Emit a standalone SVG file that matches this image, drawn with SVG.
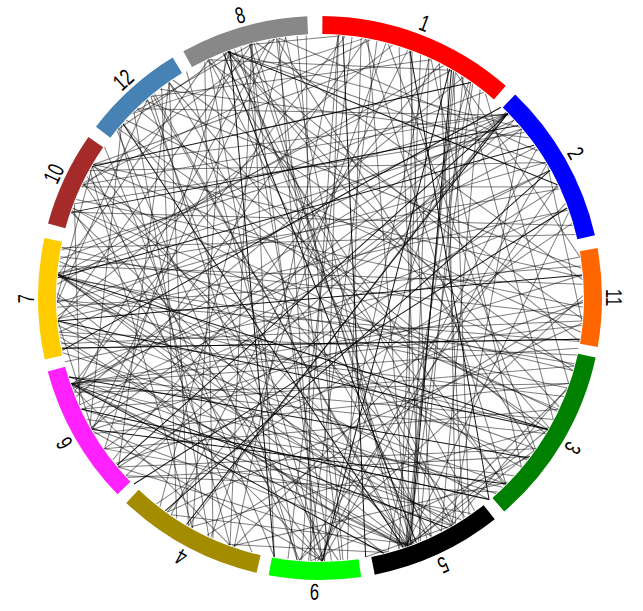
<svg xmlns="http://www.w3.org/2000/svg" xmlns:xlink="http://www.w3.org/1999/xlink" width="643" height="611" viewBox="0 0 643 611">
<style>
.seg{fill:none;stroke-width:18}
.gl{stroke:#000;stroke-opacity:.5;stroke-width:1;fill:none}
.bl{stroke:#000;stroke-opacity:.92;stroke-width:1;fill:none}
.lbl{font-family:"Liberation Sans",Arial,sans-serif;font-size:23px;text-anchor:middle;dominant-baseline:central;fill:#000}
</style>
<defs>
<path id="s5" d="M-11.5,-262.7H11.5"/>
<path id="s10" d="M-22.9,-262H22.9"/>
<path id="s15" d="M-34.3,-260.7H34.3"/>
<path id="s20" d="M-45.7,-259H45.7"/>
<path id="s25" d="M-56.9,-256.8H56.9"/>
<path id="s30" d="M-68.1,-254H68.1"/>
<path id="s35" d="M-79.1,-250.8H79.1"/>
<path id="s40" d="M-89.9,-247.1H89.9"/>
<path id="s45" d="M-100.6,-243H100.6"/>
<path id="s50" d="M-111.1,-238.4H111.1"/>
<path id="s55" d="M-121.4,-233.3H121.4"/>
<path id="s60" d="M-131.5,-227.8H131.5"/>
<path id="s65" d="M-141.3,-221.8H141.3"/>
<path id="s70" d="M-150.9,-215.4H150.9"/>
<path id="s75" d="M-160.1,-208.7H160.1"/>
<path id="s80" d="M-169.1,-201.5H169.1"/>
<path id="s85" d="M-177.7,-193.9H177.7"/>
<path id="s90" d="M-186,-186H186"/>
<path id="s95" d="M-193.9,-177.7H193.9"/>
<path id="s100" d="M-201.5,-169.1H201.5"/>
<path id="s105" d="M-208.7,-160.1H208.7"/>
<path id="s110" d="M-215.4,-150.9H215.4"/>
<path id="s115" d="M-221.8,-141.3H221.8"/>
<path id="s120" d="M-227.8,-131.5H227.8"/>
<path id="s125" d="M-233.3,-121.4H233.3"/>
<path id="s130" d="M-238.4,-111.1H238.4"/>
<path id="s135" d="M-243,-100.6H243"/>
<path id="s140" d="M-247.1,-89.9H247.1"/>
<path id="s145" d="M-250.8,-79.1H250.8"/>
<path id="s150" d="M-254,-68.1H254"/>
<path id="s155" d="M-256.8,-56.9H256.8"/>
<path id="s160" d="M-259,-45.7H259"/>
<path id="s165" d="M-260.7,-34.3H260.7"/>
<path id="s170" d="M-262,-22.9H262"/>
<path id="s175" d="M-262.7,-11.5H262.7"/>
<path id="s180" d="M-263,0H263"/>
</defs>
<rect width="643" height="611" fill="#fff"/>
<g transform="translate(320,298)">
<g id="connectors">
<g class="gl">
<use href="#s135" transform="rotate(87.5)"/>
<use href="#s135" transform="rotate(92)"/>
<use href="#s120" transform="rotate(89)"/>
<use href="#s130" transform="rotate(96)"/>
<use href="#s125" transform="rotate(95.5)"/>
<use href="#s130" transform="rotate(100)"/>
<use href="#s120" transform="rotate(87)"/>
<use href="#s140" transform="rotate(92.5)"/>
<use href="#s115" transform="rotate(95)"/>
<use href="#s140" transform="rotate(87.5)"/>
<use href="#s115" transform="rotate(88)"/>
<use href="#s125" transform="rotate(98)"/>
<use href="#s110" transform="rotate(70)"/>
<use href="#s105" transform="rotate(77.5)"/>
<use href="#s85" transform="rotate(75)"/>
<use href="#s125" transform="rotate(72.5)"/>
<use href="#s70" transform="rotate(74)"/>
<use href="#s175" transform="rotate(91.5)"/>
<use href="#s170" transform="rotate(97.5)"/>
<use href="#s180" transform="rotate(97)"/>
<use href="#s170" transform="rotate(289.5)"/>
<use href="#s165" transform="rotate(297)"/>
<use href="#s165" transform="rotate(281.5)"/>
<use href="#s130" transform="rotate(305)"/>
<use href="#s155" transform="rotate(309.5)"/>
<use href="#s145" transform="rotate(320.5)"/>
<use href="#s115" transform="rotate(308)"/>
<use href="#s110" transform="rotate(321)"/>
<use href="#s115" transform="rotate(330.5)"/>
<use href="#s120" transform="rotate(338.5)"/>
<use href="#s75" transform="rotate(333.5)"/>
<use href="#s80" transform="rotate(340.5)"/>
<use href="#s55" transform="rotate(342)"/>
<use href="#s65" transform="rotate(352.5)"/>
<use href="#s20" transform="rotate(354.5)"/>
<use href="#s55" transform="rotate(2.5)"/>
<use href="#s165" transform="rotate(323)"/>
<use href="#s175" transform="rotate(322.5)"/>
<use href="#s165" transform="rotate(332.5)"/>
<use href="#s175" transform="rotate(333.5)"/>
<use href="#s180" transform="rotate(317.5)"/>
<use href="#s145" transform="rotate(335)"/>
<use href="#s150" transform="rotate(344)"/>
<use href="#s150" transform="rotate(350.5)"/>
<use href="#s125" transform="rotate(343)"/>
<use href="#s165" transform="rotate(348)"/>
<use href="#s120" transform="rotate(351)"/>
<use href="#s120" transform="rotate(359)"/>
<use href="#s165" transform="rotate(127.5)"/>
<use href="#s130" transform="rotate(134)"/>
<use href="#s145" transform="rotate(146)"/>
<use href="#s125" transform="rotate(118)"/>
<use href="#s120" transform="rotate(124.5)"/>
<use href="#s100" transform="rotate(100)"/>
<use href="#s90" transform="rotate(116)"/>
<use href="#s90" transform="rotate(1)"/>
<use href="#s90" transform="rotate(7.5)"/>
<use href="#s70" transform="rotate(14.5)"/>
<use href="#s65" transform="rotate(23.5)"/>
<use href="#s155" transform="rotate(162.5)"/>
<use href="#s140" transform="rotate(161)"/>
<use href="#s155" transform="rotate(173.5)"/>
<use href="#s175" transform="rotate(355.5)"/>
<use href="#s165" transform="rotate(177.5)"/>
<use href="#s170" transform="rotate(2)"/>
<use href="#s160" transform="rotate(12)"/>
<use href="#s145" transform="rotate(13)"/>
<use href="#s125" transform="rotate(21)"/>
<use href="#s145" transform="rotate(25)"/>
<use href="#s100" transform="rotate(36)"/>
<use href="#s120" transform="rotate(34.5)"/>
<use href="#s115" transform="rotate(148)"/>
<use href="#s120" transform="rotate(155.5)"/>
<use href="#s95" transform="rotate(137)"/>
<use href="#s50" transform="rotate(56)"/>
<use href="#s140" transform="rotate(175)"/>
<use href="#s130" transform="rotate(174)"/>
<use href="#s135" transform="rotate(185)"/>
<use href="#s105" transform="rotate(177.5)"/>
<use href="#s110" transform="rotate(187.5)"/>
<use href="#s140" transform="rotate(179)"/>
<use href="#s120" transform="rotate(175)"/>
<use href="#s150" transform="rotate(187)"/>
<use href="#s150" transform="rotate(195)"/>
<use href="#s150" transform="rotate(203)"/>
<use href="#s130" transform="rotate(200)"/>
<use href="#s170" transform="rotate(189.5)"/>
<use href="#s180" transform="rotate(205.5)"/>
<use href="#s160" transform="rotate(210)"/>
<use href="#s165" transform="rotate(38.5)"/>
<use href="#s140" transform="rotate(36)"/>
<use href="#s135" transform="rotate(47)"/>
<use href="#s135" transform="rotate(58)"/>
<use href="#s160" transform="rotate(55.5)"/>
<use href="#s90" transform="rotate(164.5)"/>
<use href="#s65" transform="rotate(167)"/>
<use href="#s55" transform="rotate(154.5)"/>
<use href="#s90" transform="rotate(190)"/>
<use href="#s95" transform="rotate(197.5)"/>
<use href="#s90" transform="rotate(206)"/>
<use href="#s65" transform="rotate(197.5)"/>
<use href="#s115" transform="rotate(206.5)"/>
<use href="#s120" transform="rotate(215)"/>
<use href="#s100" transform="rotate(210.5)"/>
<use href="#s105" transform="rotate(218.5)"/>
<use href="#s145" transform="rotate(225)"/>
<use href="#s130" transform="rotate(224)"/>
<use href="#s165" transform="rotate(229)"/>
<use href="#s160" transform="rotate(241)"/>
<use href="#s170" transform="rotate(240)"/>
<use href="#s175" transform="rotate(68.5)"/>
<use href="#s170" transform="rotate(77.5)"/>
<use href="#s175" transform="rotate(62.5)"/>
<use href="#s175" transform="rotate(73)"/>
<use href="#s55" transform="rotate(187)"/>
<use href="#s35" transform="rotate(183)"/>
<use href="#s165" transform="rotate(260)"/>
<use href="#s170" transform="rotate(266)"/>
<use href="#s150" transform="rotate(260)"/>
<use href="#s180" transform="rotate(265)"/>
<use href="#s140" transform="rotate(249)"/>
<use href="#s125" transform="rotate(247)"/>
<use href="#s120" transform="rotate(236)"/>
<use href="#s90" transform="rotate(224.5)"/>
<use href="#s145" transform="rotate(272.5)"/>
<use href="#s130" transform="rotate(274)"/>
<use href="#s135" transform="rotate(285)"/>
<use href="#s110" transform="rotate(260)"/>
<use href="#s110" transform="rotate(268)"/>
<use href="#s90" transform="rotate(254)"/>
<use href="#s105" transform="rotate(287.5)"/>
<use href="#s100" transform="rotate(299)"/>
<use href="#s70" transform="rotate(276)"/>
<use href="#s95" transform="rotate(277.5)"/>
<use href="#s45" transform="rotate(268.5)"/>
<use href="#s80" transform="rotate(305)"/>
<use href="#s60" transform="rotate(305)"/>
<use href="#s50" transform="rotate(294)"/>
<use href="#s55" transform="rotate(322.5)"/>
<use href="#s30" transform="rotate(330)"/>
<use href="#s165" transform="rotate(61.5)"/>
<use href="#s80" transform="rotate(200.5)"/>
<use href="#s90" transform="rotate(205.5)"/>
<use href="#s100" transform="rotate(211.5)"/>
<use href="#s115" transform="rotate(218)"/>
<use href="#s140" transform="rotate(230.5)"/>
<use href="#s160" transform="rotate(240.5)"/>
<use href="#s175" transform="rotate(72)"/>
<use href="#s140" transform="rotate(90.5)"/>
<use href="#s130" transform="rotate(95.5)"/>
<use href="#s150" transform="rotate(85.5)"/>
<use href="#s50" transform="rotate(135.5)"/>
<use href="#s35" transform="rotate(143)"/>
<use href="#s150" transform="rotate(254.5)"/>
<use href="#s165" transform="rotate(262)"/>
<use href="#s155" transform="rotate(102)"/>
<use href="#s145" transform="rotate(107)"/>
<use href="#s120" transform="rotate(119.5)"/>
<use href="#s60" transform="rotate(209.5)"/>
<use href="#s110" transform="rotate(234.5)"/>
<use href="#s130" transform="rotate(186)"/>
<use href="#s115" transform="rotate(193.5)"/>
<use href="#s105" transform="rotate(200)"/>
<use href="#s150" transform="rotate(176)"/>
<use href="#s170" transform="rotate(336)"/>
<use href="#s160" transform="rotate(171)"/>
<use href="#s150" transform="rotate(200)"/>
<use href="#s135" transform="rotate(207.5)"/>
<use href="#s165" transform="rotate(192.5)"/>
<use href="#s135" transform="rotate(342.5)"/>
<use href="#s115" transform="rotate(332.5)"/>
<use href="#s125" transform="rotate(212.5)"/>
<use href="#s155" transform="rotate(328)"/>
<use href="#s140" transform="rotate(335.5)"/>
<use href="#s110" transform="rotate(350.5)"/>
<use href="#s105" transform="rotate(353)"/>
<use href="#s170" transform="rotate(130.5)"/>
<use href="#s120" transform="rotate(39.5)"/>
<use href="#s140" transform="rotate(49.5)"/>
<use href="#s170" transform="rotate(64.5)"/>
<use href="#s80" transform="rotate(19.5)"/>
<use href="#s160" transform="rotate(179)"/>
<use href="#s175" transform="rotate(6.5)"/>
<use href="#s160" transform="rotate(182.5)"/>
<use href="#s175" transform="rotate(168.5)"/>
<use href="#s170" transform="rotate(184.5)"/>
<use href="#s120" transform="rotate(198)"/>
<use href="#s175" transform="rotate(193.5)"/>
<use href="#s155" transform="rotate(358.5)"/>
<use href="#s175" transform="rotate(157.5)"/>
<use href="#s165" transform="rotate(147.5)"/>
<use href="#s90" transform="rotate(182.5)"/>
<use href="#s105" transform="rotate(192.5)"/>
<use href="#s100" transform="rotate(177)"/>
<use href="#s110" transform="rotate(255)"/>
<use href="#s135" transform="rotate(252.5)"/>
<use href="#s105" transform="rotate(247.5)"/>
<use href="#s115" transform="rotate(267.5)"/>
<use href="#s115" transform="rotate(247.5)"/>
<use href="#s155" transform="rotate(267.5)"/>
<use href="#s175" transform="rotate(263)"/>
<use href="#s175" transform="rotate(269.5)"/>
<use href="#s180" transform="rotate(274)"/>
<use href="#s165" transform="rotate(91.5)"/>
<use href="#s170" transform="rotate(35)"/>
<use href="#s170" transform="rotate(50)"/>
<use href="#s175" transform="rotate(202.5)"/>
<use href="#s165" transform="rotate(22.5)"/>
<use href="#s130" transform="rotate(0)"/>
<use href="#s145" transform="rotate(1.5)"/>
<use href="#s130" transform="rotate(269)"/>
<use href="#s110" transform="rotate(295)"/>
<use href="#s20" transform="rotate(160)"/>
<use href="#s25" transform="rotate(252.5)"/>
<use href="#s35" transform="rotate(77.5)"/>
<use href="#s40" transform="rotate(130)"/>
<use href="#s40" transform="rotate(140)"/>
<use href="#s50" transform="rotate(225)"/>
<use href="#s30" transform="rotate(285)"/>
<use href="#s30" transform="rotate(325)"/>
</g>
<g class="bl">
<use href="#s140" transform="rotate(344.5)"/>
<use href="#s145" transform="rotate(331)"/>
<use href="#s180" transform="rotate(248.5)"/>
<use href="#s85" transform="rotate(22)"/>
<use href="#s155" transform="rotate(197.5)"/>
<use href="#s125" transform="rotate(190)"/>
<use href="#s100" transform="rotate(201)"/>
<use href="#s155" transform="rotate(138.5)"/>
<use href="#s155" transform="rotate(147.5)"/>
<use href="#s150" transform="rotate(104.5)"/>
<use href="#s150" transform="rotate(236.5)"/>
<use href="#s160" transform="rotate(179)"/>
<use href="#s105" transform="rotate(192.5)"/>
<use href="#s120" transform="rotate(80)"/>
<use href="#s175" transform="rotate(318)"/>
<use href="#s95" transform="rotate(347.5)"/>
<use href="#s165" transform="rotate(128)"/>
<use href="#s180" transform="rotate(175)"/>
<use href="#s85" transform="rotate(208.5)"/>
<use href="#s105" transform="rotate(187.5)"/>
<use href="#s150" transform="rotate(265)"/>
<use href="#s130" transform="rotate(95)"/>
<use href="#s145" transform="rotate(192.5)"/>
<use href="#s120" transform="rotate(349)"/>
<use href="#s165" transform="rotate(87.5)"/>
</g>
</g>
<g id="node1"><circle class="seg" r="273" stroke="#ff0000" stroke-dasharray="193.9 2000" transform="rotate(-89.5)"/><text class="lbl" transform="rotate(20.85) translate(0,-294) scale(0.72,1)">1</text></g>
<g id="node2"><circle class="seg" r="273" stroke="#0000ff" stroke-dasharray="158.7 2000" transform="rotate(-46.2)"/><text class="lbl" transform="rotate(60.45) translate(0,-294) scale(0.72,1)">2</text></g>
<g id="node11"><circle class="seg" r="273" stroke="#ff6600" stroke-dasharray="96.2 2000" transform="rotate(-10.2)"/><text class="lbl" transform="rotate(89.9) translate(0,-294) scale(0.72,1)">11</text></g>
<g id="node3"><circle class="seg" r="273" stroke="#008000" stroke-dasharray="176.3 2000" transform="rotate(12.2)"/><text class="lbl" transform="rotate(120.7) translate(0,-294) scale(0.72,1)">3</text></g>
<g id="node5"><circle class="seg" r="273" stroke="#000000" stroke-dasharray="129.1 2000" transform="rotate(51.7)"/><text class="lbl" transform="rotate(155.25) translate(0,-294) scale(0.72,1)">5</text></g>
<g id="node9"><circle class="seg" r="273" stroke="#00ff00" stroke-dasharray="90.1 2000" transform="rotate(81.6)"/><text class="lbl" transform="rotate(181.05) translate(0,-294) scale(0.72,1)">9</text></g>
<g id="node4"><circle class="seg" r="273" stroke="#a38c00" stroke-dasharray="144.8 2000" transform="rotate(103)"/><text class="lbl" transform="rotate(208.2) translate(0,-294) scale(0.72,1)">4</text></g>
<g id="node6"><circle class="seg" r="273" stroke="#ff22ff" stroke-dasharray="138.2 2000" transform="rotate(135.9)"/><text class="lbl" transform="rotate(240.4) translate(0,-294) scale(0.72,1)">6</text></g>
<g id="node7"><circle class="seg" r="273" stroke="#ffcc00" stroke-dasharray="118.6 2000" transform="rotate(167.4)"/><text class="lbl" transform="rotate(269.85) translate(0,-294) scale(0.72,1)">7</text></g>
<g id="node10"><circle class="seg" r="273" stroke="#a52a2a" stroke-dasharray="92.9 2000" transform="rotate(195.3)"/><text class="lbl" transform="rotate(295.05) translate(0,-294) scale(0.72,1)">10</text></g>
<g id="node12"><circle class="seg" r="273" stroke="#4682b4" stroke-dasharray="100.5 2000" transform="rotate(217.4)"/><text class="lbl" transform="rotate(317.95) translate(0,-294) scale(0.72,1)">12</text></g>
<g id="node8"><circle class="seg" r="273" stroke="#888888" stroke-dasharray="125.8 2000" transform="rotate(241)"/><text class="lbl" transform="rotate(344.2) translate(0,-294) scale(0.72,1)">8</text></g>
</g>
</svg>
